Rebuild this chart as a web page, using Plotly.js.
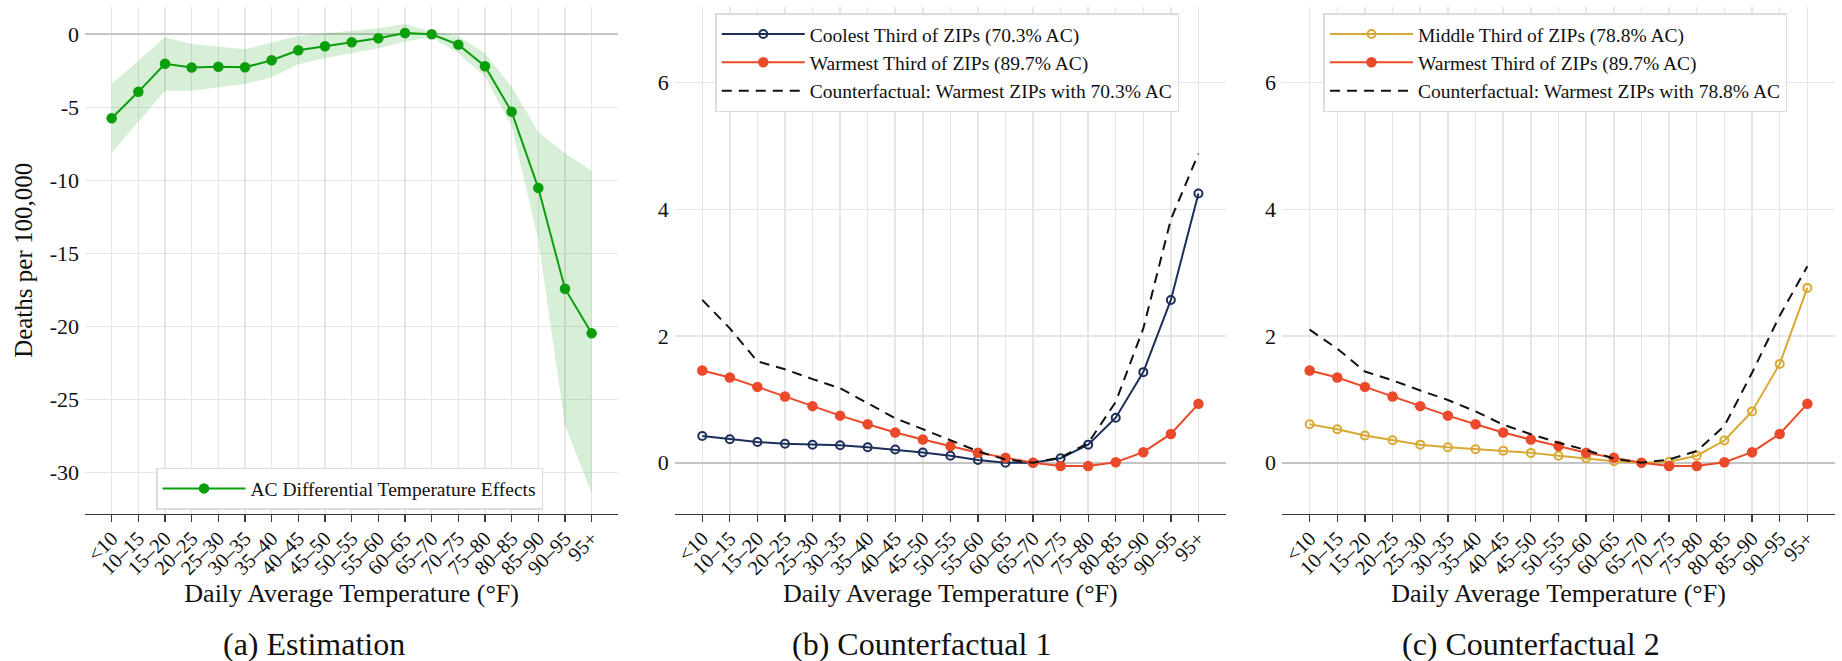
<!DOCTYPE html>
<html><head><meta charset="utf-8">
<script src="https://cdn.plot.ly/plotly-3.0.1.min.js"></script>
<style>html,body{margin:0;padding:0;background:#fff;}#chart{width:1842px;height:661px;}</style>
</head><body><div id="chart"></div>
<script>
// ---- data ----
const categories = ["<10","10–15","15–20","20–25","25–30","30–35","35–40","40–45","45–50","50–55","55–60","60–65","65–70","70–75","75–80","80–85","85–90","90–95","95+"];
const estimate   = [-5.75,-3.94,-2.02,-2.28,-2.22,-2.26,-1.78,-1.10,-0.82,-0.55,-0.27,0.09,0,-0.71,-2.19,-5.31,-10.53,-17.42,-20.48];
const ciUpper    = [-3.40,-1.80,-0.21,-0.66,-0.85,-1.03,-0.57,-0.11,0.07,0.25,0.41,0.71,0.18,-0.12,-1.30,-3.60,-6.70,-8.15,-9.34];
const ciLower    = [-8.11,-5.98,-3.86,-3.86,-3.63,-3.40,-2.95,-2.06,-1.64,-1.30,-0.96,-0.50,-0.21,-1.30,-2.90,-6.30,-14.10,-26.76,-31.44];
const coolest    = [0.42,0.37,0.327,0.30,0.284,0.275,0.243,0.208,0.162,0.11,0.043,0,0,0.07,0.285,0.71,1.43,2.57,4.25];
const warmest    = [1.456,1.344,1.197,1.044,0.893,0.743,0.606,0.476,0.365,0.262,0.158,0.08,0,-0.053,-0.053,0.008,0.166,0.454,0.929];
const counterfactual1 = [2.57,2.12,1.60,1.475,1.32,1.175,0.94,0.70,0.53,0.35,0.18,0.05,0,0.08,0.31,0.96,2.12,3.84,4.88];
const middle     = [0.607,0.528,0.428,0.354,0.285,0.243,0.212,0.19,0.155,0.11,0.07,0.024,0,0.014,0.11,0.35,0.81,1.56,2.76];
const counterfactual2 = [2.10,1.80,1.44,1.30,1.14,0.99,0.81,0.60,0.45,0.316,0.20,0.063,0,0.05,0.184,0.58,1.42,2.32,3.10];
const yTicksA    = [0,-5,-10,-15,-20,-25,-30];
const yTickTextA = ["0","-5","-10","-15","-20","-25","-30"];
const yTicksBC   = [0,2,4,6];
const yTickTextBC = ["0","2","4","6"];
const names = {
  est: "AC Differential Temperature Effects",
  cool: "Coolest Third of ZIPs (70.3% AC)",
  warm: "Warmest Third of ZIPs (89.7% AC)",
  cf1: "Counterfactual: Warmest ZIPs with 70.3% AC",
  mid: "Middle Third of ZIPs (78.8% AC)",
  cf2: "Counterfactual: Warmest ZIPs with 78.8% AC"
};
const xTitle = "Daily Average Temperature (°F)";
const yTitle = "Deaths per 100,000";
const captions = ["(a) Estimation","(b) Counterfactual 1","(c) Counterfactual 2"];

// ---- styles ----
const FONT = "'Liberation Serif', 'DejaVu Serif', serif";
const GREEN = "#0a9e0a", RED = "#ea4a2a", NAVY = "#1c2e5a", GOLD = "#d8a934";
const GRID = "#e6e6e6";

const traces = [
  {x: categories, y: ciLower, xaxis:"x", yaxis:"y", mode:"lines", line:{width:0, color:"rgba(0,0,0,0)"}, showlegend:false, hoverinfo:"skip"},
  {x: categories, y: ciUpper, xaxis:"x", yaxis:"y", mode:"lines", line:{width:0, color:"rgba(0,0,0,0)"}, fill:"tonexty", fillcolor:"rgba(20,160,20,0.17)", showlegend:false, hoverinfo:"skip"},
  {x: categories, y: estimate, xaxis:"x", yaxis:"y", name: names.est, legend:"legend", mode:"lines+markers", line:{color:GREEN, width:2}, marker:{color:GREEN, size:10.5}},

  {x: categories, y: coolest, xaxis:"x2", yaxis:"y2", name: names.cool, legend:"legend2", mode:"lines+markers", line:{color:NAVY, width:2}, marker:{color:NAVY, size:8, symbol:"circle-open", line:{width:2, color:NAVY}}},
  {x: categories, y: warmest, xaxis:"x2", yaxis:"y2", name: names.warm, legend:"legend2", mode:"lines+markers", line:{color:RED, width:2}, marker:{color:RED, size:10.5}},
  {x: categories, y: counterfactual1, xaxis:"x2", yaxis:"y2", name: names.cf1, legend:"legend2", mode:"lines", line:{color:"#111", width:2, dash:"10px,7px"}},

  {x: categories, y: middle, xaxis:"x3", yaxis:"y3", name: names.mid, legend:"legend3", mode:"lines+markers", line:{color:GOLD, width:2}, marker:{color:GOLD, size:8, symbol:"circle-open", line:{width:2, color:GOLD}}},
  {x: categories, y: warmest, xaxis:"x3", yaxis:"y3", name: names.warm, legend:"legend3", mode:"lines+markers", line:{color:RED, width:2}, marker:{color:RED, size:10.5}},
  {x: categories, y: counterfactual2, xaxis:"x3", yaxis:"y3", name: names.cf2, legend:"legend3", mode:"lines", line:{color:"#111", width:2, dash:"10px,7px"}}
];

function xAxis(domain, anchor) {
  return {
    domain: domain, anchor: anchor, type:"category", categoryorder:"array", categoryarray: categories,
    range:[-1,19], showgrid:true, gridcolor:GRID, gridwidth:1.5, zeroline:false,
    showline:true, linecolor:"#3a3a3a", linewidth:1.5,
    ticks:"outside", ticklen:7, tickwidth:1.3, tickcolor:"#3a3a3a",
    tickangle:-45, ticklabelstandoff:-4, tickfont:{family:FONT, size:20.5, color:"#111"},
    title:{text:xTitle, font:{family:FONT, size:26, color:"#111"}, standoff:0},
    fixedrange:true
  };
}
function yAxis(domain, anchor, range, vals, text, title) {
  const ax = {
    domain: domain, anchor: anchor, range: range, tickmode:"array", tickvals: vals, ticktext: text,
    showgrid:true, gridcolor:GRID, gridwidth:1.5,
    zeroline:true, zerolinecolor:"#c4c4c4", zerolinewidth:2,
    showline:false, ticks:"", ticklabelstandoff:5,
    tickfont:{family:FONT, size:22, color:"#111"}, fixedrange:true
  };
  if (title) ax.title = {text:title, font:{family:FONT, size:25, color:"#111"}, standoff:9};
  return ax;
}
const YD = [0.2224, 0.9899];
const legendBase = {bgcolor:"#ffffff", bordercolor:"#dcdcdc", borderwidth:1.5, font:{family:FONT, size:19.5, color:"#111"}, xanchor:"left", yanchor:"top", itemwidth:83, tracegroupgap:0};

const layout = {
  width:1842, height:661, margin:{l:0, r:0, t:0, b:0},
  paper_bgcolor:"#ffffff", plot_bgcolor:"#ffffff",
  font:{family:FONT, color:"#111"},
  xaxis: xAxis([0.04615, 0.33567], "y"),
  yaxis: yAxis(YD, "x", [-32.85, 1.89], yTicksA, yTickTextA, yTitle),
  xaxis2: xAxis([0.36629, 0.66558], "y2"),
  yaxis2: yAxis(YD, "x2", [-0.81, 7.2], yTicksBC, yTickTextBC, null),
  xaxis3: xAxis([0.69598, 0.99620], "y3"),
  yaxis3: yAxis(YD, "x3", [-0.81, 7.2], yTicksBC, yTickTextBC, null),
  legend: Object.assign({}, legendBase, {x:0.0847, y:0.2924}),
  legend2: Object.assign({}, legendBase, {x:0.3883, y:0.9799}),
  legend3: Object.assign({}, legendBase, {x:0.7185, y:0.9799}),
  showlegend:true,
  annotations: [
    {text:captions[0], x:0.1705, y:0.0257, xref:"paper", yref:"paper", xanchor:"center", yanchor:"middle", showarrow:false, font:{family:FONT, size:32, color:"#111"}},
    {text:captions[1], x:0.5005, y:0.0257, xref:"paper", yref:"paper", xanchor:"center", yanchor:"middle", showarrow:false, font:{family:FONT, size:32, color:"#111"}},
    {text:captions[2], x:0.8312, y:0.0257, xref:"paper", yref:"paper", xanchor:"center", yanchor:"middle", showarrow:false, font:{family:FONT, size:32, color:"#111"}}
  ]
};
Plotly.newPlot("chart", traces, layout, {staticPlot:true, displayModeBar:false});
</script></body></html>
